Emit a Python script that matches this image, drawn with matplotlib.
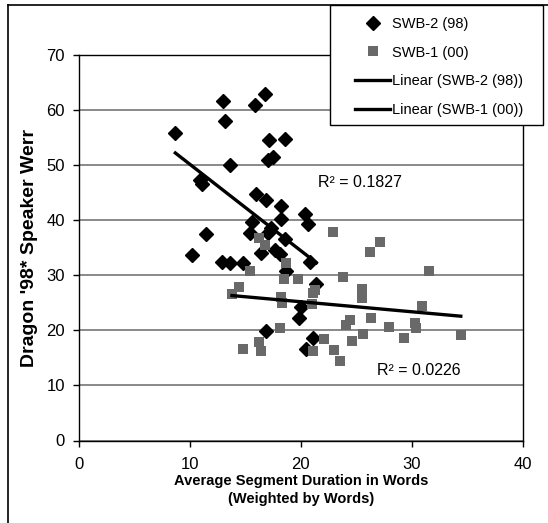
import numpy as np
import matplotlib
matplotlib.use("Agg")
import matplotlib.pyplot as plt
from matplotlib.lines import Line2D
from matplotlib.patches import Rectangle

plt.rcParams['font.family'] = ['Liberation Sans', 'DejaVu Sans']

# SWB-2 (98) - diamonds
swb2_x = [8.7, 13.0, 13.2, 13.6, 16.8, 15.9, 17.1, 18.6, 17.0, 17.5,
          10.9, 11.1, 16.0, 16.9, 18.2, 18.2, 20.4, 20.6, 11.5, 10.2,
          15.6, 15.4, 17.3, 17.0, 18.6, 16.4, 17.7, 18.1, 12.9, 13.6,
          14.8, 20.8, 18.7, 21.4, 20.0, 19.8, 16.9, 21.1, 20.5]
swb2_y = [55.8, 61.6, 58.0, 50.0, 62.9, 60.9, 54.5, 54.7, 51.0, 51.4,
          47.3, 46.6, 44.7, 43.6, 42.6, 40.2, 41.1, 39.3, 37.5, 33.7,
          39.7, 37.7, 38.6, 37.7, 36.6, 34.1, 34.6, 33.9, 32.5, 32.3,
          32.2, 32.4, 30.7, 28.5, 24.3, 22.3, 19.8, 18.7, 16.7]

# SWB-1 (00) - squares
swb1_x = [22.9, 16.2, 16.8, 18.7, 15.4, 18.5, 19.7, 23.8, 14.4, 13.8,
          21.3, 21.1, 21.0, 18.2, 18.3, 24.1, 24.4, 18.1, 16.2, 14.8,
          16.4, 22.1, 23.0, 23.5, 24.6, 21.1, 27.1, 26.2, 31.5, 25.5,
          25.5, 30.9, 26.3, 27.9, 30.3, 30.4, 25.6, 29.3, 34.4]
swb1_y = [37.9, 36.7, 35.5, 32.2, 30.8, 29.3, 29.4, 29.7, 27.9, 26.6,
          27.3, 26.7, 24.8, 26.0, 25.0, 21.0, 21.9, 20.5, 17.9, 16.6,
          16.3, 18.4, 16.4, 14.5, 18.1, 16.3, 36.1, 34.3, 30.8, 27.6,
          25.8, 24.4, 22.2, 20.6, 21.3, 20.4, 19.3, 18.7, 19.2]

r2_labels = ["R² = 0.1827", "R² = 0.0226"]
x_ticks = [0, 10, 20, 30, 40]
y_ticks = [0, 10, 20, 30, 40, 50, 60, 70]

W, H = 548, 523


def trend(x, y):
    k, b = np.polyfit(x, y, 1)
    xs = np.array([min(x), max(x)])
    return xs, k * xs + b


fig = plt.figure(figsize=(W / 100, H / 100), dpi=100)
ax = fig.add_axes([78.7 / W, 1 - 440.5 / H, (523 - 78.7) / W, (440.5 - 55) / H])

# outer chart frame (left and top edge visible)
fig.add_artist(Line2D([8 / W, 8 / W], [0, 1 - 5 / H], color='black', lw=1.2))
fig.add_artist(Line2D([8 / W, 1], [1 - 5 / H, 1 - 5 / H], color='black', lw=1.2))

ax.set_xlim(0, 40)
ax.set_ylim(0, 70)
ax.set_xticks(x_ticks)
ax.set_yticks(y_ticks)
ax.yaxis.grid(True, color='#808080', lw=1.3)
ax.set_axisbelow(True)
for s in ax.spines.values():
    s.set_color('black')
    s.set_linewidth(1.0)
ax.tick_params(direction='out', length=4, width=1, labelsize=12, colors='black')
ax.tick_params(axis='x', pad=8)
ax.tick_params(axis='y', pad=6)

ax.plot(swb2_x, swb2_y, 'D', color='black', markersize=7.5, label='SWB-2 (98)', zorder=3)
ax.plot(swb1_x, swb1_y, 's', color='#696969', markersize=7.0, markeredgewidth=0,
        label='SWB-1 (00)', zorder=3)

tx, ty = trend(swb2_x, swb2_y)
ax.plot(tx, ty, color='black', lw=2.4, label='Linear (SWB-2 (98))', zorder=4)
tx, ty = trend(swb1_x, swb1_y)
ax.plot(tx, ty, color='black', lw=2.4, label='Linear (SWB-1 (00))', zorder=4)

ax.text(21.5, 46.8, r2_labels[0], fontsize=11.5, va='center', ha='left')
ax.text(26.9, 12.8, r2_labels[1], fontsize=11.5, va='center', ha='left')

ax.set_ylabel("Dragon '98* Speaker Werr", fontsize=14, fontweight='bold', va='center')
ax.yaxis.set_label_coords((30 - 78.7) / (523 - 78.7), 0.5)
ax.set_xlabel("Average Segment Duration in Words\n(Weighted by Words)", fontsize=10.5,
              fontweight='bold', linespacing=1.35, va='top')
ax.xaxis.set_label_coords(0.5, (440.5 - 474) / (440.5 - 55))

# legend box drawn above the plot area
fig.add_artist(Rectangle((330 / W, 1 - 125 / H), 213 / W, 120 / H, facecolor='white',
                         edgecolor='black', lw=1.0, zorder=3))
handles, labels = ax.get_legend_handles_labels()
leg = fig.legend(handles, labels, loc='upper left', bbox_to_anchor=(355 / W, 1 - 17 / H),
                 frameon=False, fontsize=10.5, borderaxespad=0, borderpad=0,
                 handlelength=2.4, handletextpad=0.15, labelspacing=1.0)
leg.set_zorder(5)

fig.savefig("out.png", dpi=100)
